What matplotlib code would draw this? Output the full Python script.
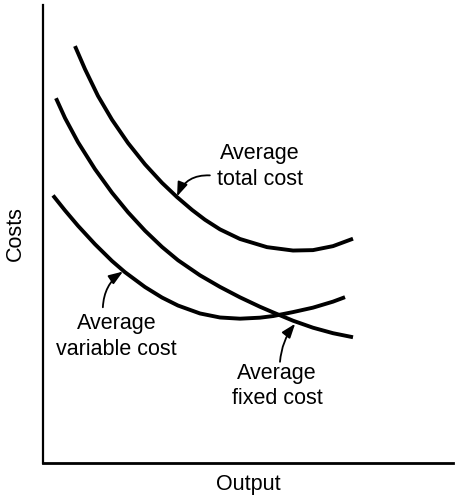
import matplotlib
matplotlib.use("Agg")
import matplotlib.pyplot as plt

plt.rcParams.update({
    "font.family": ["Liberation Sans", "DejaVu Sans"],
    "font.size": 15.5,
})

# curve points (output, cost), arbitrary units 0-10
atc_x = [0.780, 1.024, 1.341, 1.683, 2.073, 2.488, 2.902, 3.268, 3.634,
         3.951, 4.317, 4.805, 5.463, 6.098, 6.585, 7.073, 7.561]
atc_y = [9.103, 8.600, 8.015, 7.495, 6.987, 6.521, 6.118, 5.807, 5.527,
         5.311, 5.101, 4.891, 4.713, 4.639, 4.648, 4.735, 4.897]

afc_x = [0.317, 0.537, 0.854, 1.268, 1.683, 2.073, 2.488, 2.902, 3.293,
         3.829, 4.317, 4.805, 5.293, 5.610, 6.098, 6.585, 7.073, 7.561]
afc_y = [7.965, 7.532, 7.004, 6.416, 5.902, 5.475, 5.072, 4.718, 4.427,
         4.098, 3.845, 3.617, 3.411, 3.289, 3.107, 2.954, 2.834, 2.746]

avc_x = [0.244, 0.537, 0.854, 1.268, 1.683, 2.000, 2.488, 2.902, 3.293,
         3.829, 4.317, 4.805, 5.293, 5.610, 6.098, 6.585, 7.073, 7.366]
avc_y = [5.842, 5.514, 5.179, 4.777, 4.411, 4.166, 3.842, 3.613, 3.438,
         3.265, 3.177, 3.151, 3.173, 3.208, 3.295, 3.392, 3.523, 3.621]

# label text, where it sits, and where its arrow starts / points
labels = ["Average\ntotal cost", "Average\nvariable cost", "Average\nfixed cost"]
label_xy = [(5.29, 6.48), (1.80, 2.76), (5.71, 1.68)]
arrow_from = [(4.07, 6.28), (1.46, 3.40), (5.78, 2.21)]
arrow_to = [(3.27, 5.82), (1.95, 4.18), (6.15, 3.04)]
arrow_rad = [0.35, -0.25, -0.15]

fig = plt.figure(figsize=(4.58, 4.96), dpi=100)
ax = fig.add_axes([43 / 458, 33 / 496, 410 / 458, 458 / 496])

for xs, ys in ((atc_x, atc_y), (afc_x, afc_y), (avc_x, avc_y)):
    ax.plot(xs, ys, color="black", lw=2.8, solid_capstyle="butt",
            solid_joinstyle="round")

for txt, (tx, ty), p0, p1, rad in zip(labels, label_xy, arrow_from, arrow_to, arrow_rad):
    ax.text(tx, ty, txt, ha="center", va="center", linespacing=1.3)
    ax.annotate("", xy=p1, xytext=p0,
                arrowprops=dict(arrowstyle="-|>,head_length=0.55,head_width=0.2",
                                color="black", lw=1.3,
                                connectionstyle=f"arc3,rad={rad}",
                                shrinkA=0, shrinkB=0))

ax.set_xlim(0, 10)
ax.set_ylim(0, 10)
ax.spines["top"].set_visible(False)
ax.spines["right"].set_visible(False)
ax.spines["left"].set_linewidth(1.6)
ax.spines["bottom"].set_linewidth(2.0)
ax.set_xticks([])
ax.set_yticks([])
ax.set_xlabel("Output", labelpad=8)
ax.set_ylabel("Costs", labelpad=12)

fig.savefig("out.png", dpi=100)
